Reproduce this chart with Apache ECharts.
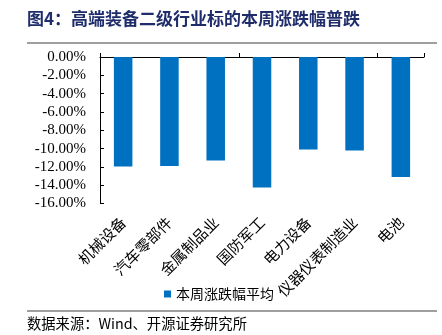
<!DOCTYPE html>
<html><head><meta charset="utf-8">
<script src="https://cdn.jsdelivr.net/npm/echarts@6/dist/echarts.min.js"></script>
<style>html,body{margin:0;padding:0;background:#fff}#c{width:442px;height:335px}</style>
</head><body><div id="c"></div>
<script>
const categories = ['机械设备','汽车零部件','金属制品业','国防军工','电力设备','仪器仪表制造业','电池'];
const weeklyChange = [-11.95, -11.9, -11.3, -14.25, -10.1, -10.2, -13.1];
const seriesName = '本周涨跌幅平均';
const titleText = '图4：高端装备二级行业标的本周涨跌幅普跌';
const sourceText = '数据来源：Wind、开源证券研究所';

const serif = '"Liberation Serif","Times New Roman","Noto Sans CJK SC",serif';
const cjk = '"Noto Sans CJK SC",sans-serif';
const chart = echarts.init(document.getElementById('c'), null, {renderer:'canvas'});
chart.setOption({
  animation: false,
  grid: {left: 100, right: 18, top: 57, bottom: 131.5, containLabel: false},
  legend: {
    data: [seriesName], left: 159, top: 282, itemWidth: 7, itemHeight: 7, itemGap: 4,
    icon: 'rect', textStyle: {fontFamily: cjk, fontSize: 14, color: '#000'}
  },
  xAxis: [{
    type: 'category', data: categories, position: 'bottom',
    axisLine: {show: false}, axisTick: {show: false},
    axisLabel: {rotate: 45, margin: 16, interval: 0, fontFamily: cjk, fontSize: 15, color: '#000'}
  },{
    type: 'category', data: categories, position: 'top',
    axisLine: {show: true, lineStyle: {color: '#000', width: 1}},
    axisTick: {show: true, length: 4, alignWithLabel: false, lineStyle: {color: '#000'}},
    axisLabel: {show: false}
  }],
  yAxis: {
    type: 'value', min: -16, max: 0, interval: 2,
    splitLine: {show: false},
    axisLine: {show: true, lineStyle: {color: '#000', width: 1}},
    axisTick: {show: true, inside: true, length: 4, lineStyle: {color: '#000'}},
    axisLabel: {margin: 14, fontFamily: serif, fontSize: 15, color: '#000',
      formatter: v => v.toFixed(2) + '%'}
  },
  series: [{
    name: seriesName, type: 'bar', data: weeklyChange, xAxisIndex: 0,
    barWidth: '40%', itemStyle: {color: '#0070C0'}
  }],
  graphic: [
    {type: 'text', left: 27, top: 10, style: {text: titleText, font: 'bold 17px "Noto Sans CJK SC"', fill: '#1F2D6B'}},
    {type: 'line', shape: {x1: 27, y1: 43, x2: 437, y2: 43}, style: {stroke: '#7F7F7F', lineWidth: 1.5}},
    {type: 'line', shape: {x1: 27, y1: 311, x2: 437, y2: 311}, style: {stroke: '#7F7F7F', lineWidth: 1.5}},
    {type: 'text', left: 27, top: 316, style: {text: sourceText, font: '14.3px "Noto Sans CJK SC"', fill: '#000'}}
  ]
});
</script></body></html>
